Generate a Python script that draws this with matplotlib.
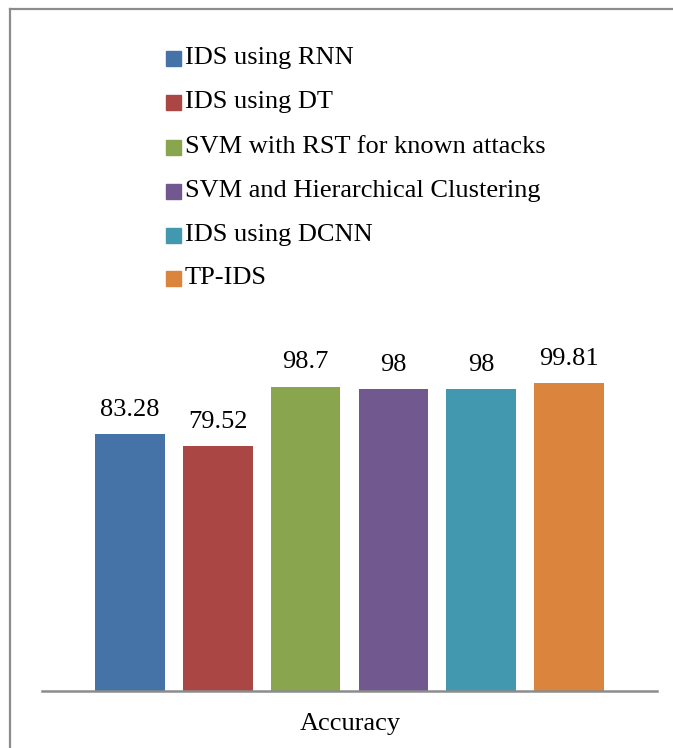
import matplotlib
matplotlib.use("Agg")
import matplotlib.pyplot as plt
from matplotlib.patches import Rectangle
from matplotlib.lines import Line2D

methods = ["IDS using RNN", "IDS using DT", "SVM with RST for known attacks",
           "SVM and Hierarchical Clustering", "IDS using DCNN", "TP-IDS"]
values = [83.28, 79.52, 98.7, 98, 98, 99.81]
value_labels = ["83.28", "79.52", "98.7", "98", "98", "99.81"]
category = "Accuracy"
colors = ["#4572A7", "#AA4643", "#89A54E", "#71588F", "#4198AF", "#DB843D"]

plt.rcParams['font.family'] = ['Liberation Serif', 'DejaVu Serif']
FS = 19

W, H = 673, 748
fig = plt.figure(figsize=(W / 100, H / 100), dpi=100)

# outer frame (left and top edges visible)
fig.add_artist(Line2D([10 / W, 10 / W], [0, 1 - 9 / H], transform=fig.transFigure,
                      color="#8c8c8c", lw=1.6))
fig.add_artist(Line2D([10 / W, 1], [1 - 9 / H, 1 - 9 / H], transform=fig.transFigure,
                      color="#8c8c8c", lw=1.6))

ax_left, ax_right = 42 / W, 657 / W
ax_bottom, ax_top = (H - 691) / H, (H - 321) / H
ax = fig.add_axes([ax_left, ax_bottom, ax_right - ax_left, ax_top - ax_bottom])
ax.set_xlim(-1, 6)
ax.set_ylim(0, 120)

x = list(range(len(values)))
bars = ax.bar(x, values, width=0.795, color=colors, zorder=2)
for xi, v, lab in zip(x, values, value_labels):
    ax.annotate(lab, (xi, v), xytext=(0, 9.5), textcoords="offset points",
                ha="center", va="bottom", fontsize=FS, color="black")

for s in ["top", "right", "left"]:
    ax.spines[s].set_visible(False)
ax.spines["bottom"].set_color("#8c8c8c")
ax.spines["bottom"].set_linewidth(1.8)
ax.set_yticks([])
ax.set_xticks([])

fig.text(350 / W, 1 - 724 / H, category, ha="center", va="center", fontsize=FS)

# legend
row_y = [58, 102, 147, 191, 235, 278]
for name, c, yy in zip(methods, colors, row_y):
    fig.add_artist(Rectangle((166 / W, 1 - (yy + 8) / H), 15 / W, 15 / H,
                             transform=fig.transFigure, color=c))
    fig.text(185 / W, 1 - yy / H, name, ha="left", va="center", fontsize=FS)

fig.savefig("out.png", dpi=100)
